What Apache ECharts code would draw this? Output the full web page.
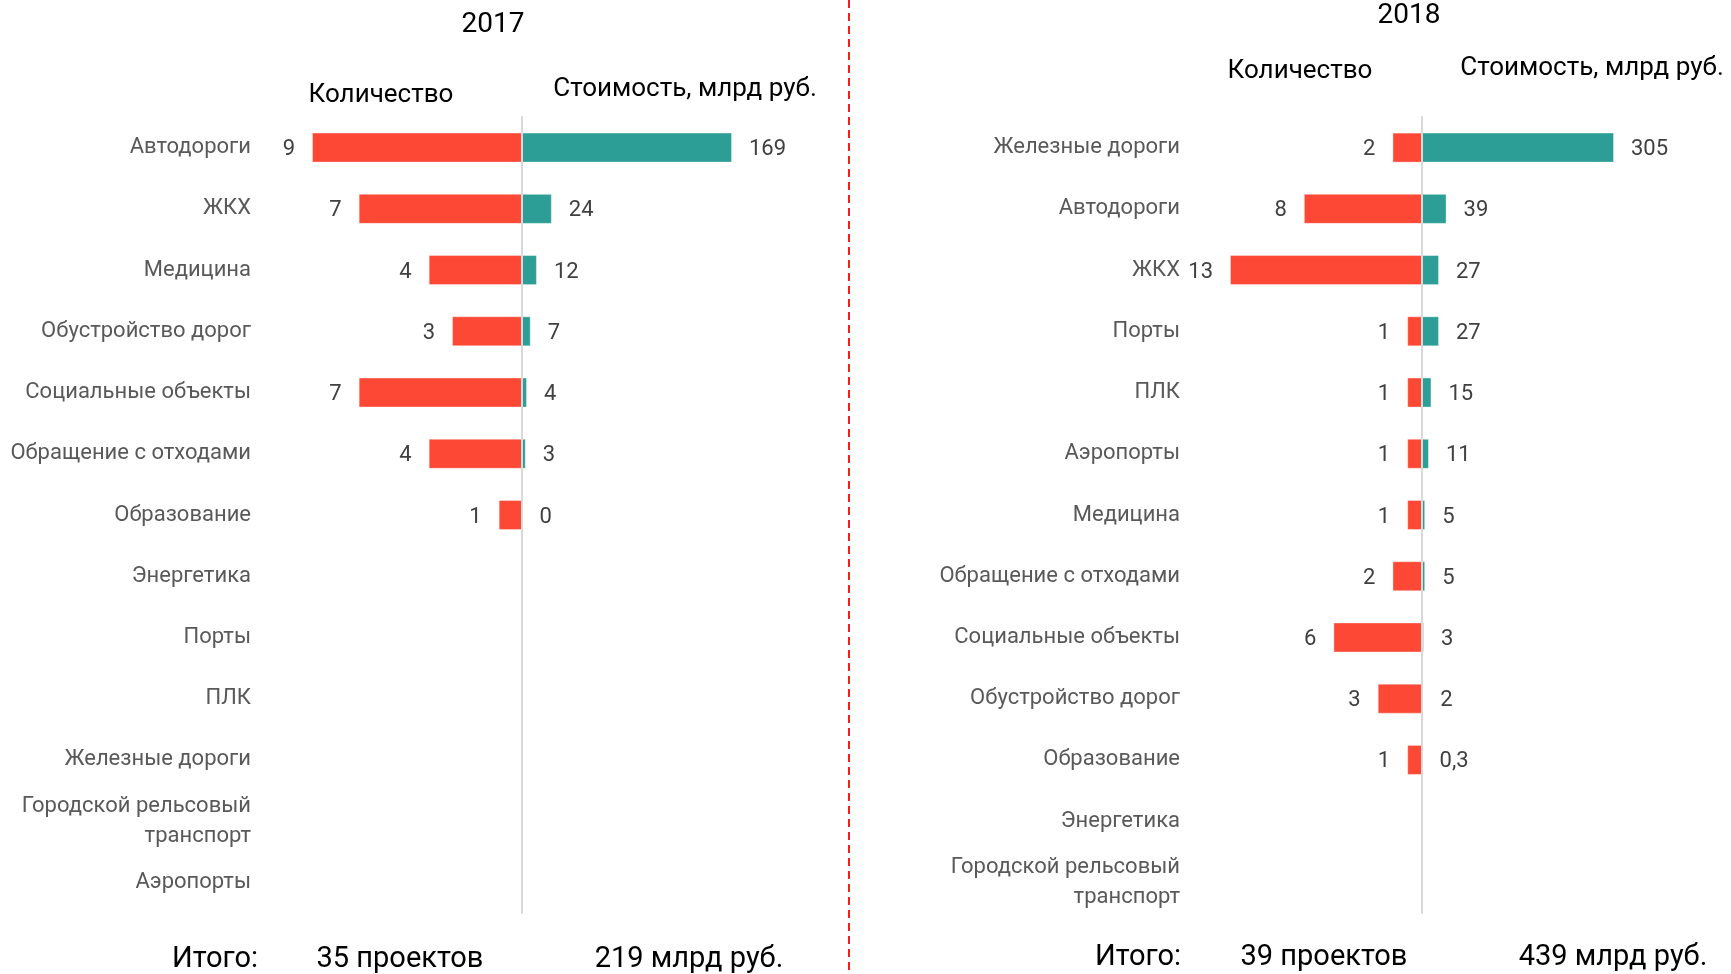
<!DOCTYPE html>
<html><head><meta charset="utf-8">
<script src="https://cdn.jsdelivr.net/npm/echarts@6/dist/echarts.min.js"></script>
<style>html,body{margin:0;padding:0;background:#fff}#c{width:1731px;height:974px}</style>
</head><body><div id="c"></div>
<script>
const cats2017 = ['Автодороги','ЖКХ','Медицина','Обустройство дорог','Социальные объекты','Обращение с отходами','Образование','Энергетика','Порты','ПЛК','Железные дороги','Городской рельсовый\nтранспорт','Аэропорты'];
const count2017 = [9,7,4,3,7,4,1,null,null,null,null,null,null];
const value2017 = [169,24,12,7,4,3,0,null,null,null,null,null,null];
const cats2018 = ['Железные дороги','Автодороги','ЖКХ','Порты','ПЛК','Аэропорты','Медицина','Обращение с отходами','Социальные объекты','Обустройство дорог','Образование','Энергетика','Городской рельсовый\nтранспорт'];
const count2018 = [2,8,13,1,1,1,1,2,6,3,1,null,null];
const value2018 = [305,39,27,27,15,11,5,5,3,2,0.3,null,null];
const years = ['2017','2018'];
const headerCount = 'Количество';
const headerValue = 'Стоимость, млрд руб.';
const totalLabel = 'Итого:';
const totals2017 = ['35 проектов','219 млрд руб.'];
const totals2018 = ['39 проектов','439 млрд руб.'];

const FONT = '"Roboto",sans-serif';
const RED = '#FD4836', TEAL = '#2D9E96';
const chart = echarts.init(document.getElementById('c'));
const clean = a => a.map(v => v === null ? '-' : v);
const fmt = p => String(p.value).replace('.', ',');

const panels = [
  {cats: cats2017, cnt: count2017, val: value2017, axisX: 522, w: 210, labelMargin: 61},
  {cats: cats2018, cnt: count2018, val: value2018, axisX: 1422, w: 192, labelMargin: 50}
];
const grid = [], xAxis = [], yAxis = [], series = [];
panels.forEach((p, i) => {
  const gi = i * 2;
  grid.push({left: p.axisX - p.w, width: p.w, top: 117, height: 796, containLabel: false, outerBoundsMode: 'none'});
  grid.push({left: p.axisX, width: p.w, top: 117, height: 796, containLabel: false, outerBoundsMode: 'none'});
  xAxis.push({type: 'value', gridIndex: gi, inverse: true, min: 0, max: Math.max(...p.cnt.filter(v => v !== null)), show: false});
  xAxis.push({type: 'value', gridIndex: gi + 1, min: 0, max: Math.max(...p.val.filter(v => v !== null)), show: false});
  yAxis.push({type: 'category', gridIndex: gi, inverse: true, data: p.cats, position: 'left',
    axisLine: {show: false}, axisTick: {show: false}, splitLine: {show: false},
    axisLabel: {margin: p.labelMargin, color: '#595959', fontSize: 22, fontFamily: FONT, lineHeight: 30, padding: [3, 0, 0, 0]}});
  yAxis.push({type: 'category', gridIndex: gi + 1, inverse: true, data: p.cats, position: 'left',
    axisLine: {show: true, lineStyle: {color: '#D9D9D9', width: 2}}, axisTick: {show: false},
    axisLabel: {show: false}, splitLine: {show: false}, z: 5});
  series.push({type: 'bar', xAxisIndex: gi, yAxisIndex: gi, data: clean(p.cnt), barWidth: 30,
    itemStyle: {color: RED, borderColor: 'rgba(255,255,255,0.35)', borderWidth: 1}, silent: true,
    label: {show: true, position: 'left', distance: 17, offset: [0, 2], color: '#404040', fontSize: 22, fontFamily: FONT, formatter: fmt}});
  series.push({type: 'bar', xAxisIndex: gi + 1, yAxisIndex: gi + 1, data: clean(p.val), barWidth: 30,
    itemStyle: {color: TEAL, borderColor: 'rgba(255,255,255,0.35)', borderWidth: 1}, silent: true,
    label: {show: true, position: 'right', distance: 17, offset: [0, 2], color: '#404040', fontSize: 22, fontFamily: FONT, formatter: fmt}});
});

const txt = (x, y, s, size) => ({type: 'text', x: x, y: y,
  style: {text: s, fill: '#000', font: size + 'px ' + FONT, textAlign: 'center', textVerticalAlign: 'middle'}});

chart.setOption({
  animation: false,
  grid, xAxis, yAxis, series,
  graphic: [
    {type: 'line', shape: {x1: 849, y1: 0, x2: 849, y2: 974}, style: {stroke: '#F51E1E', lineWidth: 2, lineDash: [8, 5]}},
    txt(493, 25, years[0], 28),
    txt(381, 95, headerCount, 26),
    txt(685, 89, headerValue, 26),
    txt(1409, 16, years[1], 28),
    txt(1300, 71, headerCount, 26),
    txt(1592, 68, headerValue, 26),
    txt(215, 960, totalLabel, 29),
    txt(400, 960, totals2017[0], 29),
    txt(689, 960, totals2017[1], 29),
    txt(1138, 958, totalLabel, 29),
    txt(1324, 958, totals2018[0], 29),
    txt(1613, 958, totals2018[1], 29)
  ]
});
</script></body></html>
